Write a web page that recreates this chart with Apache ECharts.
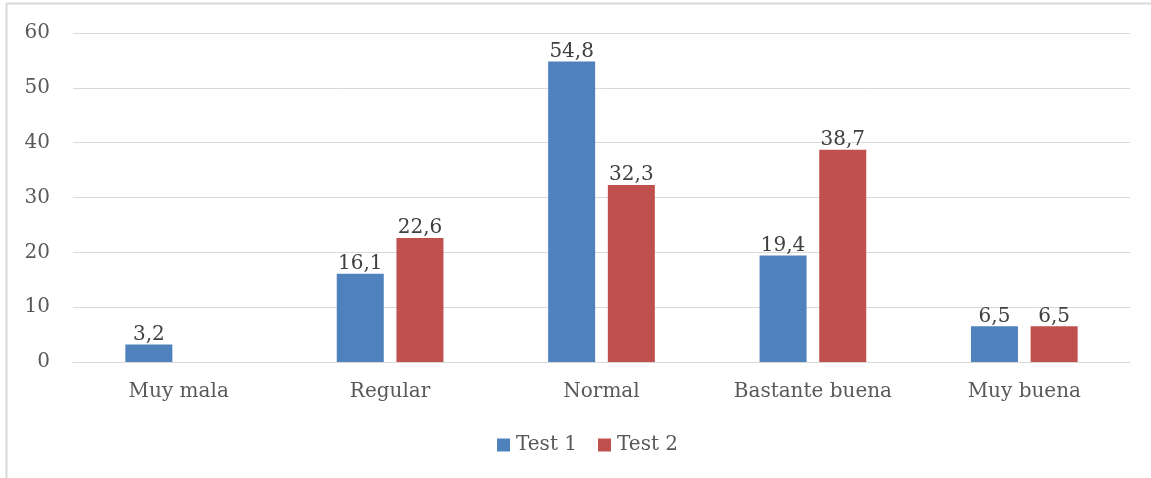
<!DOCTYPE html>
<html>
<head>
<meta charset="utf-8">
<script src="https://cdn.jsdelivr.net/npm/echarts@6/dist/echarts.min.js"></script>
<style>
  html, body { margin: 0; padding: 0; background: #ffffff; }
  #chart { width: 1151px; height: 478px; }
</style>
</head>
<body>
<div id="chart"></div>
<script>
// Valoración por categoría, dos pruebas
const categories = ['Muy mala', 'Regular', 'Normal', 'Bastante buena', 'Muy buena'];
const test1 = [3.2, 16.1, 54.8, 19.4, 6.5];
const test2 = [0, 22.6, 32.3, 38.7, 6.5];
const seriesNames = ['Test 1', 'Test 2'];
const yTicks = [0, 10, 20, 30, 40, 50, 60];

const FONT = 'DejaVu Serif';
const TEXT = '#595959';
const GRID = '#d9d9d9';
const SIZE = 20;

const chart = echarts.init(document.getElementById('chart'), null, { renderer: 'canvas' });

// comma decimal separator, empty for zero
const fmt = p => (p.value === 0 || p.value == null) ? '' : String(p.value).replace('.', ',');

const labelStyle = {
  show: true,
  position: 'top',
  distance: 0,
  color: '#404040',
  fontFamily: FONT,
  fontSize: SIZE,
  formatter: fmt
};

chart.setOption({
  animation: false,
  backgroundColor: '#ffffff',
  graphic: [{
    type: 'rect',
    shape: { x: 6.5, y: 3.5, width: 1200, height: 500 },
    style: { fill: 'none', stroke: GRID, lineWidth: 2 },
    silent: true,
    z: -10
  }],
  legend: {
    bottom: 18,
    left: 492,
    itemWidth: 13,
    itemHeight: 13,
    itemGap: 21,
    icon: 'rect',
    textStyle: { color: TEXT, fontFamily: FONT, fontSize: SIZE, padding: [0, 0, 0, 1] },
    data: seriesNames
  },
  grid: { left: 73, right: 21, top: 33, bottom: 116, containLabel: false },
  xAxis: {
    type: 'category',
    data: categories,
    axisLine: { show: true, lineStyle: { color: GRID, width: 1 } },
    axisTick: { show: false },
    axisLabel: { color: TEXT, fontFamily: FONT, fontSize: SIZE, margin: 20 }
  },
  yAxis: {
    type: 'value',
    min: yTicks[0],
    max: yTicks[yTicks.length - 1],
    interval: 10,
    axisLine: { show: false },
    axisTick: { show: false },
    axisLabel: { color: TEXT, fontFamily: FONT, fontSize: SIZE, margin: 23 },
    splitLine: { lineStyle: { color: GRID, width: 1 } }
  },
  series: [
    {
      name: seriesNames[0],
      type: 'bar',
      data: test1,
      barWidth: 47,
      barGap: '27%',
      itemStyle: { color: '#4F81BD' },
      label: labelStyle
    },
    {
      name: seriesNames[1],
      type: 'bar',
      data: test2,
      barWidth: 47,
      itemStyle: { color: '#C0504D' },
      label: labelStyle
    }
  ]
});
</script>
</body>
</html>
